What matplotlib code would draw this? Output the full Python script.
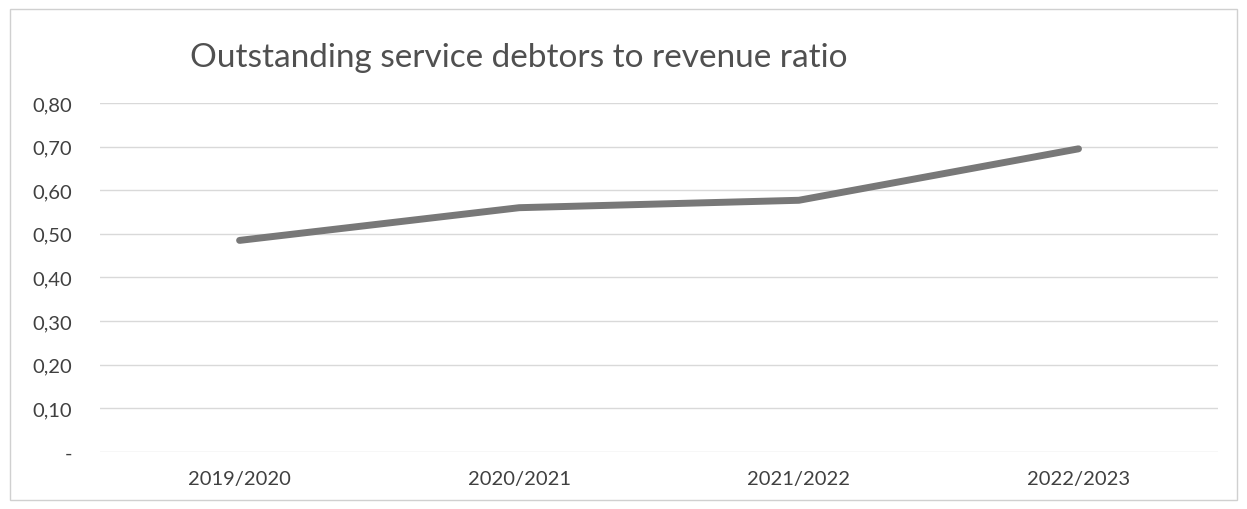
#!/usr/bin/env python3
# -*- coding: utf-8 -*-
"""
Line chart of the outstanding service debtors to revenue ratio per year.
"""

import matplotlib as mpl
from matplotlib import pyplot as plt
from matplotlib.patches import Rectangle

mpl.use('Agg')

# %% Data
years = ['2019/2020', '2020/2021', '2021/2022', '2022/2023']
ratio = [0.485, 0.56, 0.577, 0.695]

ytick_values = [0.0, 0.1, 0.2, 0.3, 0.4, 0.5, 0.6, 0.7, 0.8]
ytick_labels = ['-', '0,10', '0,20', '0,30', '0,40', '0,50', '0,60',
                '0,70', '0,80']

title = 'Outstanding service debtors to revenue ratio'


# %% Plot
def main():
    plt.rcParams['font.family'] = ['Lato', 'DejaVu Sans']
    plt.rcParams['ytick.major.pad'] = 20
    plt.rcParams['xtick.major.pad'] = 13

    fig = plt.figure(figsize=(12.47, 5.10), dpi=100)
    ax = fig.add_axes([0.080, 0.112, 0.897, 0.684])

    x = range(len(years))
    ax.plot(x, ratio, color='#787878', linewidth=5.0,
            solid_capstyle='round', solid_joinstyle='round', zorder=3)

    ax.set_xlim(-0.5, len(years) - 0.5)
    ax.set_ylim(0, 0.8)
    ax.set_xticks(list(x))
    ax.set_xticklabels(years)
    ax.set_yticks(ytick_values)
    ax.set_yticklabels(ytick_labels)

    ax.tick_params(axis='both', length=0, labelsize=14.5,
                   labelcolor='#404040')

    ax.grid(axis='y', color='#d9d9d9', linewidth=1.0, zorder=0)
    for side in ax.spines.values():
        side.set_visible(False)

    # Chart title
    fig.text(0.152, 0.868, title, fontsize=24, color='#505050',
             ha='left', va='baseline')

    # Chart area border
    fig.patches.append(Rectangle((0.008, 0.018), 0.984, 0.962,
                                 transform=fig.transFigure, fill=False,
                                 edgecolor='#d0d0d0', linewidth=1.0))

    fig.savefig('out.png', dpi=100)
    plt.close(fig)


if __name__ == '__main__':
    main()
